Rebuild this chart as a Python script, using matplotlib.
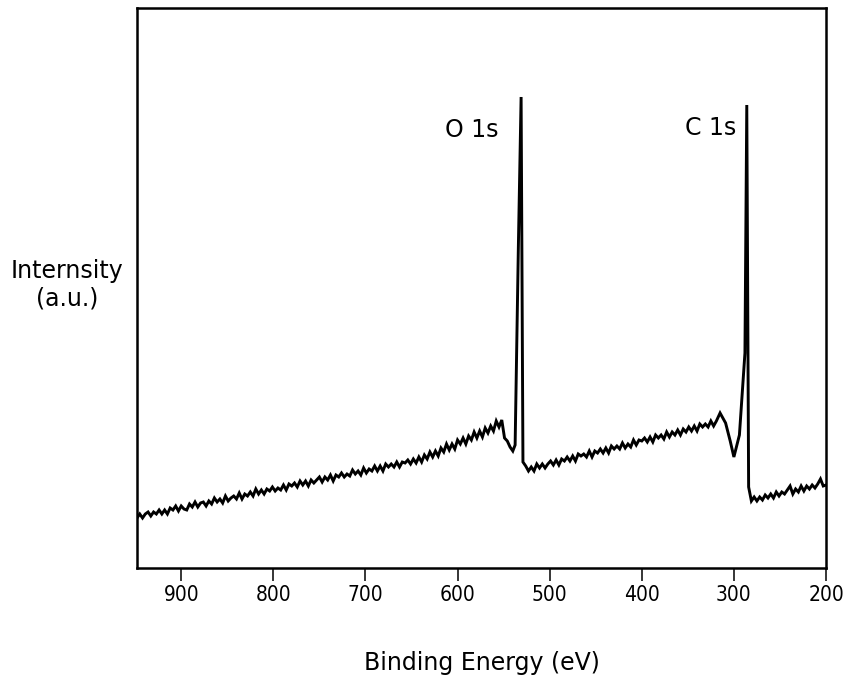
#!/usr/bin/env python
'''
XPS survey spectrum: intensity vs binding energy
'''
import numpy
import matplotlib
matplotlib.use("Agg")
import matplotlib.pyplot as plt

# background before the O 1s line, 948 -> 540 eV, every 3 eV
energy_a = numpy.arange(948, 539, -3)
counts_a = [50, 54, 50, 54, 56, 52, 56, 54, 58, 54,
            58, 54, 60, 58, 62, 57, 62, 59, 58, 64,
            61, 66, 61, 65, 66, 62, 67, 64, 70, 66,
            69, 65, 72, 67, 70, 72, 69, 75, 69, 74,
            72, 76, 72, 79, 74, 78, 74, 79, 77, 81,
            77, 80, 78, 83, 78, 84, 82, 85, 81, 87,
            83, 87, 82, 88, 85, 88, 91, 86, 91, 88,
            93, 87, 93, 91, 95, 91, 94, 92, 98, 94,
            97, 93, 100, 95, 99, 97, 102, 97, 102, 97,
            104, 101, 104, 101, 106, 101, 106, 105, 108, 104,
            109, 105, 111, 106, 113, 109, 116, 111, 117, 112,
            120, 116, 124, 118, 124, 119, 128, 124, 130, 124,
            132, 128, 136, 130, 137, 131, 140, 135, 142, 137,
            147, 141, 148, 130, 127, 121, 117]

# O 1s line
energy_o = [537.5, 534, 531, 529]
counts_o = [123, 320, 471, 106]

# background between the two lines, 526 -> 319 eV
energy_b = numpy.arange(526, 318, -3)
counts_b = [102, 97, 101, 97, 104, 100, 104, 100, 104, 107,
            103, 108, 103, 109, 107, 111, 107, 112, 107, 114,
            112, 114, 111, 117, 111, 117, 115, 119, 115, 120,
            115, 122, 119, 122, 119, 125, 120, 124, 121, 128,
            123, 128, 127, 130, 126, 131, 126, 133, 130, 133,
            129, 136, 131, 136, 133, 138, 133, 139, 136, 141,
            137, 142, 137, 144, 141, 144, 141, 147, 142, 147]

# C 1s line
energy_c = [315, 309, 304, 300, 294, 288, 286, 284]
counts_c = [155, 145, 127, 111, 133, 215, 463, 81]

# tail, 281 -> 200 eV
energy_d = numpy.arange(281, 199, -3)
counts_d = [67, 71, 67, 71, 68, 73, 70, 74, 70, 76,
            72, 76, 74, 78, 82, 74, 79, 76, 82, 77,
            82, 79, 83, 80, 84, 89, 82, 83]

peak_labels = ["O 1s", "C 1s"]
label_pos = [(556, 438), (297.5, 440)]

xticks = [900, 800, 700, 600, 500, 400, 300, 200]

energy = numpy.concatenate([energy_a, energy_o, energy_b, energy_c, energy_d])
counts = numpy.concatenate([counts_a, counts_o, counts_b, counts_c, counts_d])

fig = plt.figure(figsize=(8.43, 6.91), dpi=100)
ax = fig.add_axes([137/843, 1-568/691, (826-137)/843, (568-8)/691])

ax.plot(energy, counts, color='black', lw=2.1, solid_joinstyle='miter')

for lab, (x, y) in zip(peak_labels, label_pos):
    ax.text(x, y, lab, ha='right', va='center', fontsize=17)

ax.set_xlim(948, 200)
ax.set_ylim(0, 560)
ax.set_yticks([])
ax.set_xticks(xticks)
ax.set_xticklabels([str(t) for t in xticks], fontsize=15,
                   fontstretch='condensed')
ax.tick_params(axis='x', direction='out', length=9.5, width=1.1, pad=3)
for sp in ax.spines.values():
    sp.set_linewidth(1.8)

ax.set_xlabel("Binding Energy (eV)", fontsize=17, labelpad=33)
fig.text(67/843, 1-285/691, "Internsity\n(a.u.)", fontsize=17,
         ha='center', va='center', multialignment='center')

plt.savefig("out.png", dpi=100)
